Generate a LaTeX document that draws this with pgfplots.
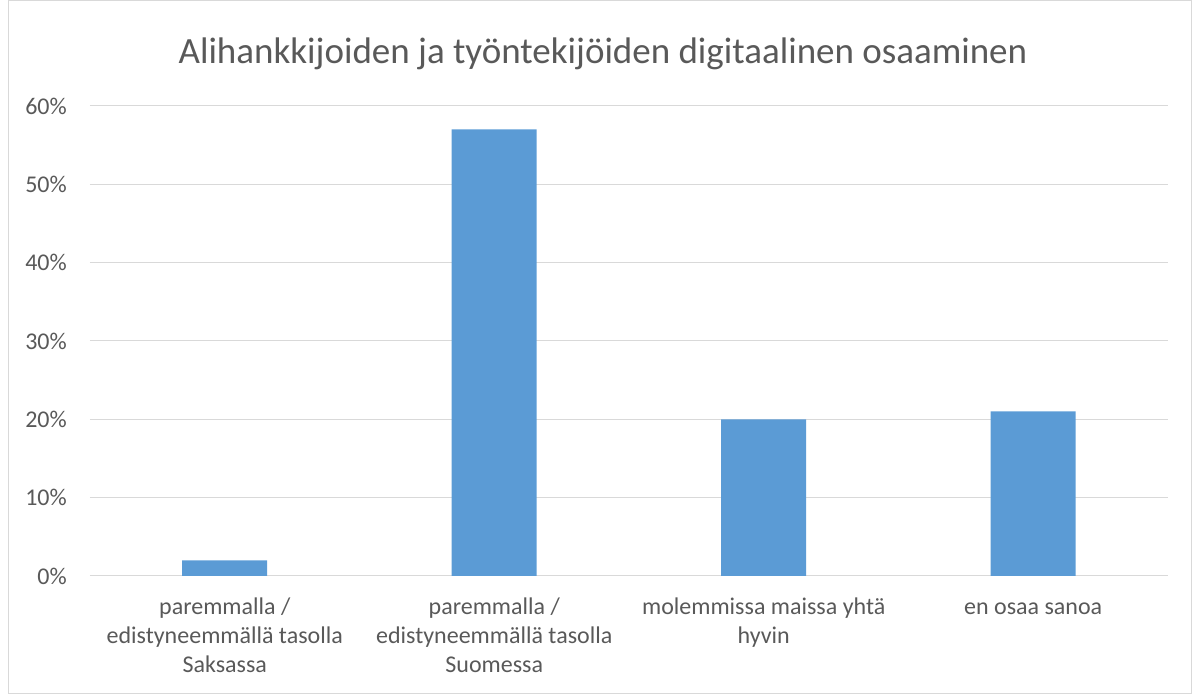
\documentclass[border=0pt]{standalone}
\usepackage{pgfplots}
\pgfplotsset{compat=1.18}
\usepackage{fontspec}
\setmainfont{Carlito}
\definecolor{barblue}{HTML}{5B9BD5}
\definecolor{gridgray}{HTML}{D9D9D9}
\definecolor{txtgray}{HTML}{595959}
\begin{document}
\begin{tikzpicture}[x=1pt,y=1pt]
\path[use as bounding box] (0,0) rectangle (1192,695);
\draw[gridgray, line width=1pt] (8,1) rectangle (1191,694);
\node[txtgray, font=\fontsize{37}{44}\selectfont] at (603,641) {Alihankkijoiden ja työntekijöiden digitaalinen osaaminen};
\begin{axis}[
  at={(90pt,119pt)}, anchor=south west,
  scale only axis, width=1078pt, height=470pt,
  ymin=0, ymax=60, ytick={0,10,...,60},
  yticklabel={\pgfmathprintnumber{\tick}\%},
  /pgf/number format/assume math mode=true,
  xmin=-0.5, xmax=3.5, xtick=data,
  xticklabels={{\strut paremmalla /\\edistyneemmällä tasolla\\Saksassa},
               {\strut paremmalla /\\edistyneemmällä tasolla\\Suomessa},
               {\strut molemmissa maissa yhtä\\hyvin},
               {\strut en osaa sanoa}},
  xticklabel style={align=center, anchor=north, yshift=-15pt, font=\fontsize{24}{29}\selectfont, text=txtgray},
  yticklabel style={font=\fontsize{24}{28}\selectfont, text=txtgray, anchor=east, inner sep=0pt},
  yticklabel shift=23pt,
  ymajorgrids, grid style={gridgray, line width=1pt},
  axis x line*=bottom, axis y line*=left,
  x axis line style={gridgray, line width=1pt, -},
  y axis line style={draw=none},
  major tick length=0pt,
  ybar, bar width=85pt,
]
\addplot[fill=barblue, draw=none] coordinates {(0,2) (1,57) (2,20) (3,21)};
\end{axis}
\end{tikzpicture}
\end{document}
